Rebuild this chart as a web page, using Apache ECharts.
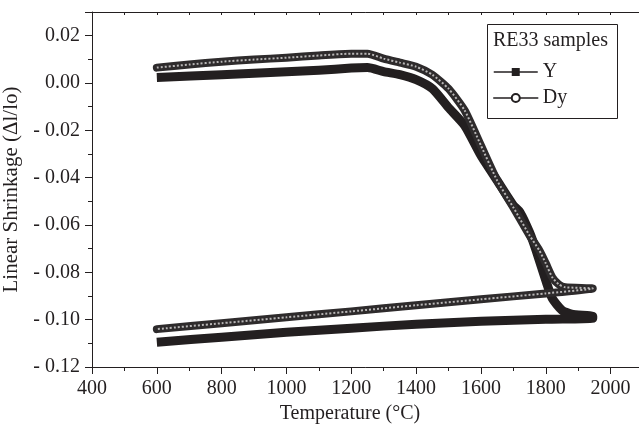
<!DOCTYPE html>
<html>
<head>
<meta charset="utf-8">
<script src="https://cdn.jsdelivr.net/npm/echarts@6/dist/echarts.min.js"></script>
<style>
  html, body { margin: 0; padding: 0; background: #fff; }
  #main { width: 639px; height: 428px; }
</style>
</head>
<body>
<div id="main"></div>
<script>
// 读图得到的数据 (温度 °C, 线收缩 Δl/lo)
let yHeatT = [600, 800, 1000, 1100, 1200, 1250, 1300, 1350, 1400, 1450, 1500, 1550, 1600, 1650, 1700, 1720, 1750, 1770, 1800, 1820, 1850, 1880, 1945];
let yHeatV = [0.0023, 0.0035, 0.0048, 0.0054, 0.0063, 0.0065, 0.0048, 0.0035, 0.0014, -0.0024, -0.0104, -0.018, -0.0306, -0.0412, -0.0517, -0.0545, -0.0631, -0.0707, -0.0834, -0.091, -0.096, -0.0977, -0.0986];
let yCoolT = [1945, 1800, 1600, 1400, 1200, 1000, 800, 600];
let yCoolV = [-0.0994, -0.0998, -0.1007, -0.1019, -0.1036, -0.1053, -0.1074, -0.1095];

let dyHeatT = [600, 700, 800, 900, 1000, 1100, 1200, 1250, 1300, 1350, 1400, 1450, 1500, 1550, 1600, 1650, 1700, 1750, 1780, 1800, 1820, 1840, 1860, 1945];
let dyHeatV = [0.0065, 0.0078, 0.009, 0.0099, 0.0107, 0.0116, 0.0124, 0.0124, 0.0103, 0.0086, 0.0069, 0.0035, -0.0024, -0.0116, -0.0264, -0.0412, -0.0526, -0.0644, -0.0707, -0.0762, -0.0821, -0.0851, -0.0863, -0.0868];
let dyCoolT = [1945, 1800, 1600, 1400, 1200, 1000, 800, 600];
let dyCoolV = [-0.0868, -0.0889, -0.0914, -0.0939, -0.0965, -0.099, -0.1015, -0.104];

let xTicks = [400, 600, 800, 1000, 1200, 1400, 1600, 1800, 2000];

function pairs(t, v) {
    let out = [];
    for (let i = 0; i < t.length; i++) {
        out.push([t[i], v[i]]);
    }
    return out;
}
let yData = pairs(yHeatT, yHeatV).concat(pairs(yCoolT, yCoolV));
let dyData = pairs(dyHeatT, dyHeatV).concat(pairs(dyCoolT, dyCoolV));

let font = "'Liberation Serif', 'DejaVu Serif', serif";
let ink = '#231f20';

let option = {
    backgroundColor: '#fff',
    animation: false,
    grid: {
        left: 92,
        top: 12,
        right: -4,
        bottom: 61,
        containLabel: false,
        outerBoundsMode: 'none'
    },
    legend: {
        data: ['Y', 'Dy'],
        orient: 'vertical',
        left: 493,
        top: 62,
        padding: 0,
        z: 20,
        itemWidth: 44,
        itemHeight: 10,
        itemGap: 6,
        textStyle: {
            fontFamily: font,
            fontSize: 20,
            color: ink
        },
        lineStyle: {
            width: 1.5,
            color: ink
        }
    },
    graphic: [
        {
            type: 'rect',
            shape: { x: 487.5, y: 24.5, width: 130, height: 94 },
            style: { fill: '#fff', stroke: ink, lineWidth: 1 },
            z: 10
        },
        {
            type: 'text',
            left: 493,
            top: 31,
            style: {
                text: 'RE33 samples',
                font: "20px 'Liberation Serif'",
                fill: ink
            },
            z: 11
        },
        {
            type: 'text',
            x: 350,
            y: 414,
            style: {
                text: 'Temperature (°C)',
                font: "20px 'Liberation Serif'",
                fill: ink,
                align: 'center',
                verticalAlign: 'middle'
            }
        }
    ],
    xAxis: [
        {
            // 主刻度 + 标签
            type: 'value',
            min: 400,
            max: 2100,
            interval: 200,
            position: 'bottom',
            axisLine: { onZero: false, lineStyle: { color: ink, width: 1 } },
            axisTick: { length: 7, lineStyle: { color: ink } },
            axisLabel: {
                fontFamily: font,
                fontSize: 20,
                color: ink,
                margin: 12,
                formatter: function (v) {
                    return xTicks.indexOf(v) >= 0 ? String(v) : '';
                }
            },
            splitLine: { show: false }
        },
        {
            // 次刻度
            type: 'value',
            min: 400,
            max: 2100,
            interval: 100,
            position: 'bottom',
            axisLine: { show: false, onZero: false },
            axisTick: { length: 4, lineStyle: { color: ink } },
            axisLabel: { show: false },
            splitLine: { show: false }
        },
        {
            // 上边框
            type: 'value',
            min: 400,
            max: 2100,
            interval: 100,
            position: 'top',
            axisLine: { onZero: false, lineStyle: { color: ink, width: 1 } },
            axisTick: { inside: true, length: 3, lineStyle: { color: ink } },
            axisLabel: { show: false },
            splitLine: { show: false }
        }
    ],
    yAxis: [
        {
            type: 'value',
            min: -0.12,
            max: 0.03,
            interval: 0.02,
            position: 'left',
            name: 'Linear Shrinkage (Δl/lo)',
            nameLocation: 'middle',
            nameGap: 60,
            nameTextStyle: { fontFamily: font, fontSize: 21, color: ink },
            axisLine: { show: true, onZero: false, lineStyle: { color: ink, width: 1 } },
            axisTick: { show: true, length: 7, lineStyle: { color: ink } },
            axisLabel: {
                fontFamily: font,
                fontSize: 20,
                color: ink,
                margin: 12,
                formatter: function (v) {
                    let k = Math.round(v * 100);
                    if (k % 2 !== 0) return '';
                    if (k < 0) return '- ' + Math.abs(v).toFixed(2);
                    return Math.abs(v).toFixed(2);
                }
            },
            splitLine: { show: false }
        },
        {
            type: 'value',
            min: -0.12,
            max: 0.03,
            interval: 0.01,
            position: 'left',
            axisLine: { show: false, onZero: false },
            axisTick: { show: true, length: 4, lineStyle: { color: ink } },
            axisLabel: { show: false },
            splitLine: { show: false }
        }
    ],
    series: [
        {
            name: 'Y',
            type: 'line',
            data: yData,
            symbol: 'rect',
            showSymbol: false,
            smooth: 0.2,
            itemStyle: { color: ink },
            lineStyle: { width: 9, color: ink, join: 'round', cap: 'butt' },
            z: 3
        },
        {
            name: 'Dy',
            type: 'line',
            data: dyData,
            symbol: 'emptyCircle',
            showSymbol: false,
            smooth: 0.2,
            itemStyle: { color: ink, borderWidth: 1.5 },
            lineStyle: { width: 8, color: '#2e2b2c', join: 'round', cap: 'round' },
            z: 4
        },
        {
            // 空心圆点的纹理
            name: 'Dy-core',
            type: 'line',
            data: dyData,
            showSymbol: false,
            smooth: 0.2,
            silent: true,
            lineStyle: { width: 2, color: '#b8b6b6', type: [2, 2] },
            z: 5
        }
    ]
};

let myChart = echarts.init(document.getElementById('main'));
myChart.setOption(option);
</script>
</body>
</html>
